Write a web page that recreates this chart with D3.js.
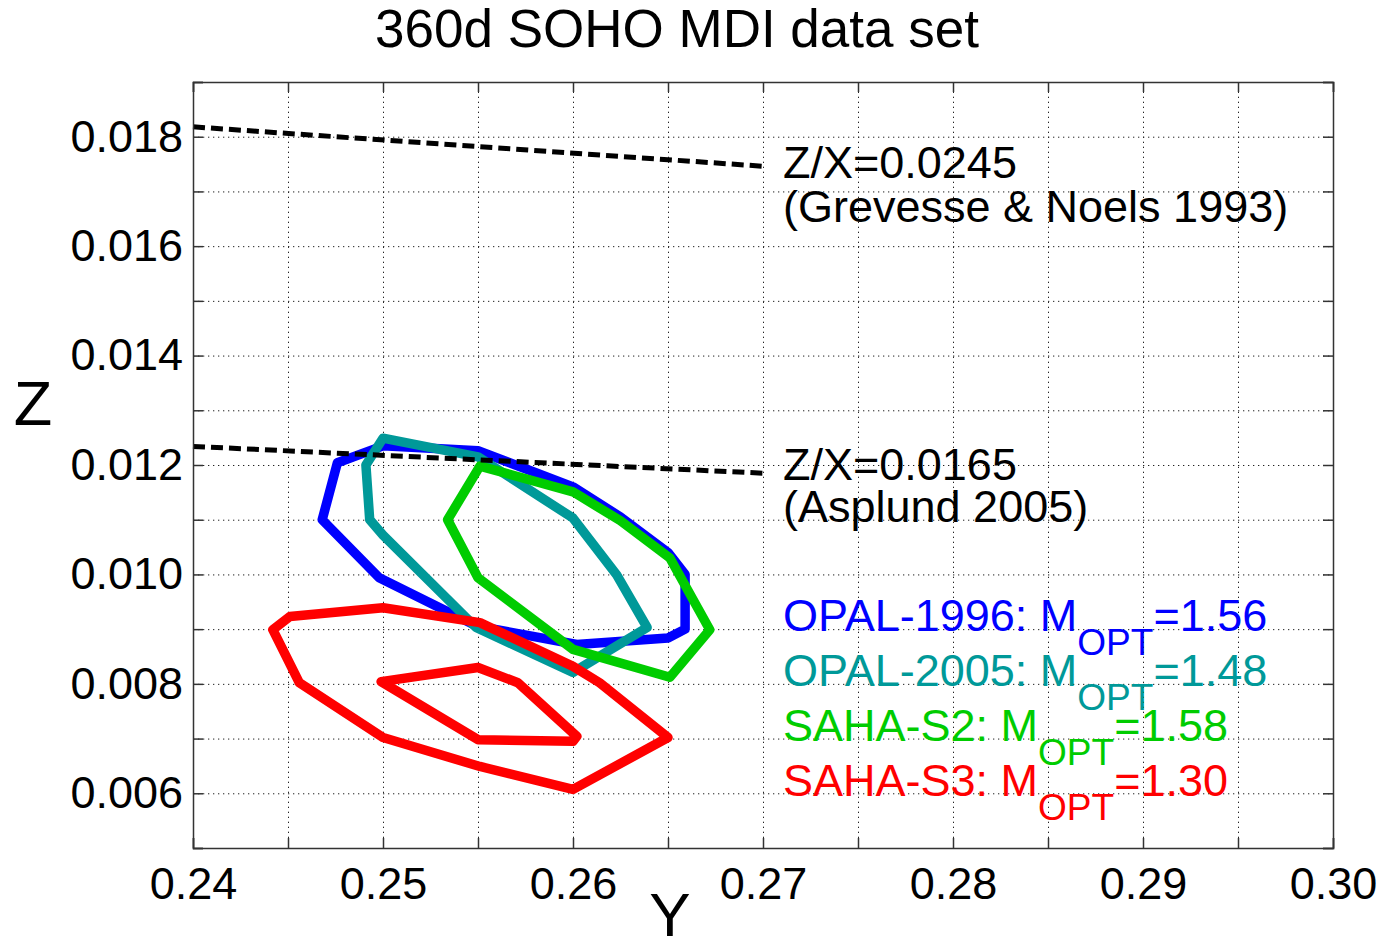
<!DOCTYPE html>
<html><head><meta charset="utf-8">
<script src="https://cdn.jsdelivr.net/npm/d3@7"></script>
<style>
body{margin:0;background:#fff}
text{font-family:"Liberation Sans",Arial,Helvetica,sans-serif}
</style>
</head><body>
<svg id="c" width="1383" height="941"></svg>
<script>
// ---- data ----
const xTickValues = [0.24,0.245,0.25,0.255,0.26,0.265,0.27,0.275,0.28,0.285,0.29,0.295,0.30];
const xTickLabels = ["0.24","","0.25","","0.26","","0.27","","0.28","","0.29","","0.30"];
const yTickValues = [0.005,0.006,0.007,0.008,0.009,0.010,0.011,0.012,0.013,0.014,0.015,0.016,0.017,0.018,0.019];
const yTickLabels = ["","0.006","","0.008","","0.010","","0.012","","0.014","","0.016","","0.018",""];

const opal1996 = [[0.2500,0.01235],[0.2550,0.01226],[0.2600,0.0116],[0.2625,0.01105],[0.2650,0.0104],[0.2659,0.0100],[0.2659,0.0090],[0.2650,0.00884],[0.2602,0.00872],[0.2549,0.00906],[0.2498,0.00994],[0.2468,0.0110],[0.2476,0.01204]];
const opal2005 = [[0.2500,0.01249],[0.2550,0.01215],[0.2600,0.01103],[0.2623,0.00999],[0.2639,0.00903],[0.2600,0.00821],[0.2549,0.00903],[0.2500,0.01072],[0.2493,0.0110],[0.2491,0.0120]];
const sahaS2 = [[0.2551,0.01198],[0.2600,0.01151],[0.2625,0.01098],[0.2651,0.0103],[0.2672,0.00899],[0.2651,0.00812],[0.2600,0.00863],[0.2550,0.00994],[0.2534,0.0110]];
const sahaS3outer = [[0.2442,0.00899],[0.2451,0.00923],[0.2500,0.00939],[0.2551,0.00912],[0.2600,0.00832],[0.2614,0.00802],[0.2650,0.00702],[0.2600,0.00607],[0.2551,0.00649],[0.2500,0.00702],[0.2456,0.00802]];
const sahaS3inner = [[0.2499,0.00804],[0.2550,0.0083],[0.2571,0.00802],[0.2602,0.00704],[0.2600,0.00695],[0.2550,0.00698]];

const zx0245 = [[0.24,0.01818],[0.27,0.01746]];
const zx0165 = [[0.24,0.01234],[0.27,0.01185]];

const legendNames = ["OPAL-1996: M","OPAL-2005: M","SAHA-S2: M","SAHA-S3: M"];
const legendValues = ["=1.56","=1.48","=1.58","=1.30"];
const legendColors = ["#0000ff","#009999","#00cc00","#ff0000"];

// ---- layout ----
const L=193, R=1333, T=82, B=848;
const svg = d3.select("#c");
const x = d3.scaleLinear().domain([0.24,0.30]).range([L,R]);
const y = d3.scaleLinear().domain([0.005,0.019]).range([B,T]);

// grid
const gridX = svg.append("g").attr("transform",`translate(0,${B})`)
  .call(d3.axisBottom(x).tickValues(xTickValues.slice(1,-1)).tickSize(-(B-T)).tickFormat(""));
const gridY = svg.append("g").attr("transform",`translate(${L},0)`)
  .call(d3.axisLeft(y).tickValues(yTickValues.slice(1,-1)).tickSize(-(R-L)).tickFormat(""));
[gridX,gridY].forEach(g=>{
  g.select(".domain").remove();
  g.selectAll("line").attr("stroke","#222").attr("stroke-width",1).attr("stroke-dasharray","1.3,3.7");
});

// contours
const line = d3.line().x(d=>x(d[0])).y(d=>y(d[1])).curve(d3.curveLinearClosed);
const contours = [[opal1996,legendColors[0]],[opal2005,legendColors[1]],[sahaS2,legendColors[2]],[sahaS3outer,legendColors[3]],[sahaS3inner,legendColors[3]]];
contours.forEach(([d,c])=>{
  svg.append("path").attr("d",line(d)).attr("fill","none").attr("stroke",c)
    .attr("stroke-width",9.5).attr("stroke-linejoin","round");
});

// Z/X lines
const line2 = d3.line().x(d=>x(d[0])).y(d=>y(d[1]));
[zx0245,zx0165].forEach(d=>{
  svg.append("path").attr("d",line2(d)).attr("fill","none").attr("stroke","#000")
    .attr("stroke-width",5).attr("stroke-dasharray","12,6");
});

// axes
const fs = 45;
const ax = [
  svg.append("g").attr("transform",`translate(0,${B})`)
    .call(d3.axisBottom(x).tickValues(xTickValues).tickSize(-10).tickPadding(19).tickFormat((d,i)=>xTickLabels[i])),
  svg.append("g").attr("transform",`translate(0,${T})`)
    .call(d3.axisTop(x).tickValues(xTickValues).tickSize(-10).tickFormat("")),
  svg.append("g").attr("transform",`translate(${L},0)`)
    .call(d3.axisLeft(y).tickValues(yTickValues).tickSize(-10).tickPadding(10).tickFormat((d,i)=>yTickLabels[i])),
  svg.append("g").attr("transform",`translate(${R},0)`)
    .call(d3.axisRight(y).tickValues(yTickValues).tickSize(-10).tickFormat(""))
];
ax.forEach(g=>{
  g.select(".domain").attr("stroke","#333").attr("stroke-width",1.5);
  g.selectAll(".tick line").attr("stroke","#333").attr("stroke-width",1.5);
  g.selectAll("text").attr("font-size",fs).attr("fill","#000")
    .style("font-family",'"Liberation Sans",Arial,sans-serif');
});

// titles
svg.append("text").attr("x",677).attr("y",47).attr("text-anchor","middle")
  .attr("font-size",53).text("360d SOHO MDI data set");
svg.append("text").attr("x",33).attr("y",425).attr("text-anchor","middle")
  .attr("font-size",63).text("Z");
svg.append("text").attr("x",670).attr("y",936).attr("text-anchor","middle")
  .attr("font-size",62).text("Y");

// annotations
const ann = [["Z/X=0.0245",178],["(Grevesse & Noels 1993)",222],["Z/X=0.0165",480],["(Asplund 2005)",522]];
ann.forEach(([t,yy])=>{
  svg.append("text").attr("x",783).attr("y",yy).attr("font-size",fs).text(t);
});

// legend
const rowBase = [631,686,741,796];
legendNames.forEach((n,i)=>{
  const t = svg.append("text").attr("x",783).attr("y",rowBase[i]).attr("font-size",fs).attr("fill",legendColors[i]);
  t.append("tspan").text(n);
  t.append("tspan").attr("font-size",37).attr("dy",24).text("OPT");
  t.append("tspan").attr("dy",-24).text(legendValues[i]);
});
</script>
</body></html>
